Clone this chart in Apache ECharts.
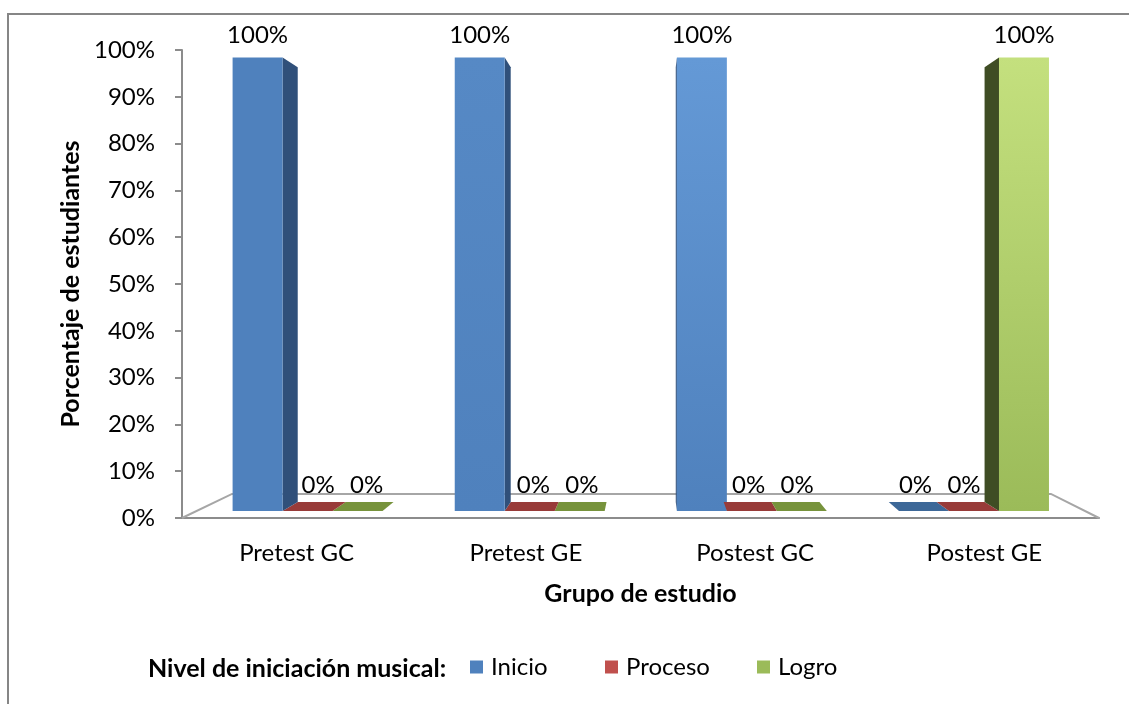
<!DOCTYPE html>
<html>
<head>
<meta charset="utf-8">
<script src="https://cdn.jsdelivr.net/npm/echarts@6/dist/echarts.min.js"></script>
<style>
  html, body { margin: 0; padding: 0; background: #fff; }
  #chart { width: 1129px; height: 704px; }
</style>
</head>
<body>
<div id="chart"></div>
<script>
  // data
  const grupos = ['Pretest GC', 'Pretest GE', 'Postest GC', 'Postest GE'];
  const niveles = ['Inicio', 'Proceso', 'Logro'];
  const inicio = [100, 100, 100, 0];
  const proceso = [0, 0, 0, 0];
  const logro = [0, 0, 0, 100];

  const colores = ['#4f81bd', '#c0504d', '#9bbb59'];
  const claros = ['#6ba1de', '#dc716d', '#c4e07e'];
  const lados = ['#30507a', '#7a2f2d', '#3f4d24'];
  const techos = ['#3d6898', '#983b39', '#77933c'];

  // fake perspective: vanishing point relative to the grid, depths as fraction toward it
  const VP_X = 0.51, VP_Y = 0.52;
  const F_FRONT = 0.031, F_BACK = 0.071, F_FLOOR = 0.107;
  const BAR_FRAC = 0.225;
  const FONT = 'Lato, "Noto Sans", sans-serif';

  function mix(a, b, k) {
    const pa = parseInt(a.slice(1), 16), pb = parseInt(b.slice(1), 16);
    const ch = [16, 8, 0].map(s => Math.round(((pa >> s) & 255) * (1 - k) + ((pb >> s) & 255) * k));
    return 'rgb(' + ch.join(',') + ')';
  }

  function barRenderer(idx) {
    return function (params, api) {
        const cs = params.coordSys;
        const vx = cs.x + cs.width * VP_X, vy = cs.y + cs.height * VP_Y;
        const proj = (x, y, f) => [x + f * (vx - x), y + f * (vy - y)];
        const c = api.value(0), v = api.value(1);
        const base = api.coord([c, 0]);
        const top = api.coord([c, v]);
        const bw = api.size([1, 0])[0] * BAR_FRAC;
        const x0 = base[0] - 1.5 * bw + idx * bw, x1 = x0 + bw;
        const y0 = base[1], y1 = top[1];
        const z = Math.round(Math.abs((x0 + x1) / 2 - vx)) + 10;
        const kids = [];

        // side face
        let sx = null;
        if (x1 < vx) sx = x1; else if (x0 > vx) sx = x0;
        if (sx !== null && y0 - y1 > 0.5) {
            kids.push({
                type: 'polygon', z2: z,
                shape: {points: [proj(sx, y1, F_FRONT), proj(sx, y1, F_BACK), proj(sx, y0, F_BACK), proj(sx, y0, F_FRONT)]},
                style: {fill: lados[idx]}
            });
        }
        // top face, seen only below the horizon
        if (y1 > vy) {
            kids.push({
                type: 'polygon', z2: z,
                shape: {points: [proj(x0, y1, F_FRONT), proj(x1, y1, F_FRONT), proj(x1, y1, F_BACK), proj(x0, y1, F_BACK)]},
                style: {fill: techos[idx]}
            });
        }
        // front face
        if (y0 - y1 > 0.5) {
            const a = proj(x0, y1, F_FRONT), b = proj(x1, y0, F_FRONT);
            const t = (base[0] - cs.x) / cs.width;
            const k = Math.max(0, Math.min(1, (t - 0.25) / 0.5));
            kids.push({
                type: 'rect', z2: z + 1,
                shape: {x: a[0], y: a[1], width: b[0] - a[0], height: b[1] - a[1]},
                style: {
                    fill: new echarts.graphic.LinearGradient(0, 0, 0, 1, [
                        {offset: 0, color: mix(colores[idx], claros[idx], k)},
                        {offset: 1, color: colores[idx]}
                    ])
                }
            });
        }
        // value label
        let lp;
        if (y0 - y1 > 0.5) {
            lp = proj((x0 + x1) / 2, y1, F_FRONT);
            lp[1] -= 10;
        } else {
            lp = proj((x0 + x1) / 2, y1, (F_FRONT + F_BACK) / 2 + 0.01);
            lp[1] -= 7;
        }
        kids.push({
            type: 'text', z2: 1000,
            style: {
                x: lp[0], y: lp[1], text: v + '%', align: 'center', verticalAlign: 'bottom',
                font: '24px ' + FONT, fill: '#000'
            }
        });
        return {type: 'group', children: kids};
    };
  }

  function floorRenderer(params, api) {
    const cs = params.coordSys;
    const vx = cs.x + cs.width * VP_X, vy = cs.y + cs.height * VP_Y;
    const proj = (x, y, f) => [x + f * (vx - x), y + f * (vy - y)];
    const yb = cs.y + cs.height, xl = cs.x, xr = cs.x + cs.width;
    return {
        type: 'polyline',
        shape: {points: [[xl, yb], proj(xl, yb, F_FLOOR), proj(xr, yb, F_FLOOR), [xr, yb]]},
        style: {stroke: '#a6a6a6', lineWidth: 2, fill: null}
    };
  }

  const valores = [inicio, proceso, logro];
  const series = [{
      type: 'custom', name: 'floor', z: 1, silent: true,
      renderItem: floorRenderer, data: [[0, 0]], encode: {x: 0, y: 1}
  }];
  niveles.forEach((n, i) => {
      series.push({
          type: 'custom', name: n, silent: true,
          itemStyle: {color: colores[i]},
          renderItem: barRenderer(i),
          encode: {x: 0, y: 1},
          data: valores[i].map((v, j) => [j, v])
      });
  });

  const legendBase = {
      orient: 'horizontal', top: 655, padding: 0, icon: 'rect', itemWidth: 13, itemHeight: 13,
      selectedMode: false,
      textStyle: {fontFamily: FONT, fontSize: 24, color: '#000', padding: [0, 0, 0, 3]}
  };

  const chart = echarts.init(document.getElementById('chart'));
  chart.setOption({
      animation: false,
      textStyle: {fontFamily: FONT},
      title: {
          text: 'Nivel de iniciación musical:', left: 143, top: 651,
          textStyle: {fontFamily: FONT, fontSize: 25, fontWeight: 'bold', color: '#000'}
      },
      legend: [
          Object.assign({}, legendBase, {left: 470, data: ['Inicio']}),
          Object.assign({}, legendBase, {left: 605, data: ['Proceso']}),
          Object.assign({}, legendBase, {left: 757, data: ['Logro']})
      ],
      graphic: [{
          type: 'rect', silent: true,
          shape: {x: 8, y: 14, width: 1300, height: 900},
          style: {fill: null, stroke: '#868686', lineWidth: 2}
      }],
      grid: {left: 182, right: 30, top: 50, bottom: 186},
      xAxis: {
          type: 'category', data: grupos,
          name: 'Grupo de estudio', nameLocation: 'middle', nameGap: 63,
          nameTextStyle: {fontFamily: FONT, fontSize: 25, fontWeight: 'bold', color: '#000'},
          axisLine: {lineStyle: {color: '#8c8c8c', width: 2}},
          axisTick: {length: 8, lineStyle: {color: '#8c8c8c', width: 2}},
          axisLabel: {fontSize: 24, color: '#000', margin: 23}
      },
      yAxis: {
          type: 'value', min: 0, max: 100, interval: 10,
          name: 'Porcentaje de estudiantes', nameLocation: 'middle', nameGap: 98,
          nameTextStyle: {fontFamily: FONT, fontSize: 25, fontWeight: 'bold', color: '#000'},
          axisLine: {show: true, lineStyle: {color: '#8c8c8c', width: 2}},
          axisTick: {show: true, length: 7, lineStyle: {color: '#8c8c8c', width: 2}},
          axisLabel: {fontSize: 24, color: '#000', margin: 27, formatter: '{value}%'},
          splitLine: {show: false}
      },
      series: series
  });
</script>
</body>
</html>
